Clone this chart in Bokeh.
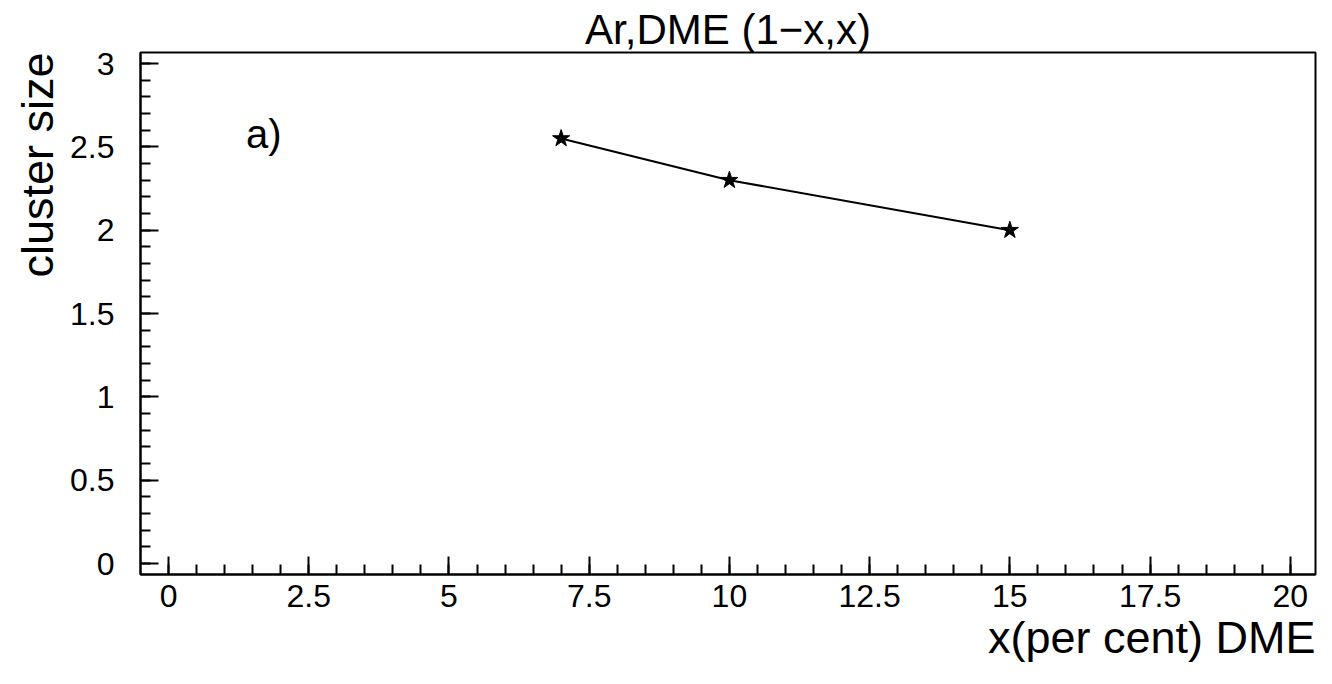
from bokeh.plotting import figure
from bokeh.models import Range1d, FixedTicker, Label, Title
from bokeh.embed import file_html
from bokeh.resources import INLINE

# Data
dme_percent = [7, 10, 15]
cluster_size = [2.55, 2.3, 2.0]

x_major = [0, 2.5, 5, 7.5, 10, 12.5, 15, 17.5, 20]
x_minor = [i * 0.5 for i in range(0, 41)]
y_major = [0, 0.5, 1, 1.5, 2, 2.5, 3]
y_minor = [round(i * 0.1, 1) for i in range(0, 31)]

title_text = "Ar,DME (1\u2212x,x)"
x_label_text = "x(per cent) DME"
y_label_text = "cluster size"
panel_text = "a)"

FONT = "Liberation Sans"

p = figure(width=1332, height=684, output_backend="svg", toolbar_location=None,
           x_range=Range1d(-0.5, 20.45), y_range=Range1d(-0.065, 3.066),
           min_border_left=140, min_border_right=17, min_border_top=52, min_border_bottom=110)
p.grid.visible = False
p.outline_line_color = "black"
p.outline_line_width = 2
p.background_fill_color = "white"
p.border_fill_color = "white"

p.title.text = title_text
p.title.align = "center"
p.title.text_font = FONT
p.title.text_font_size = "42px"
p.title.text_font_style = "normal"
p.title.text_color = "black"
p.title.standoff = 0

p.xaxis.ticker = FixedTicker(ticks=x_major, minor_ticks=x_minor)
p.yaxis.ticker = FixedTicker(ticks=y_major, minor_ticks=y_minor)
for ax in (p.xaxis, p.yaxis):
    ax.axis_line_color = "black"
    ax.axis_line_width = 2
    ax.major_tick_in = 18
    ax.major_tick_out = 0
    ax.minor_tick_in = 10
    ax.minor_tick_out = 0
    ax.major_tick_line_width = 2
    ax.minor_tick_line_width = 2
    ax.major_tick_line_color = "black"
    ax.minor_tick_line_color = "black"
    ax.major_label_text_font = FONT
    ax.major_label_text_font_size = "32px"
    ax.major_label_text_color = "black"
p.xaxis.major_label_standoff = 10
p.yaxis.major_label_standoff = 26
p.xaxis.major_label_overrides = {v: (str(v) if v != int(v) else str(int(v))) for v in x_major}
p.yaxis.major_label_overrides = {v: (str(v) if v != int(v) else str(int(v))) for v in y_major}

p.line(dme_percent, cluster_size, line_color="black", line_width=2)
p.scatter(dme_percent, cluster_size, marker="star", size=18, fill_color="black", line_color="black")

p.add_layout(Title(text=x_label_text, align="right", text_font=FONT, text_font_size="45px",
                   text_font_style="normal", text_color="black", standoff=0), "below")
p.add_layout(Title(text=y_label_text, align="right", text_font=FONT, text_font_size="45px",
                   text_font_style="normal", text_color="black"), "left")
p.add_layout(Label(x=1.7, y=2.58, text=panel_text, text_font=FONT, text_font_size="40px",
                   text_align="center", text_baseline="middle", text_color="black"))

open("out.html", "w").write(file_html(p, INLINE))
